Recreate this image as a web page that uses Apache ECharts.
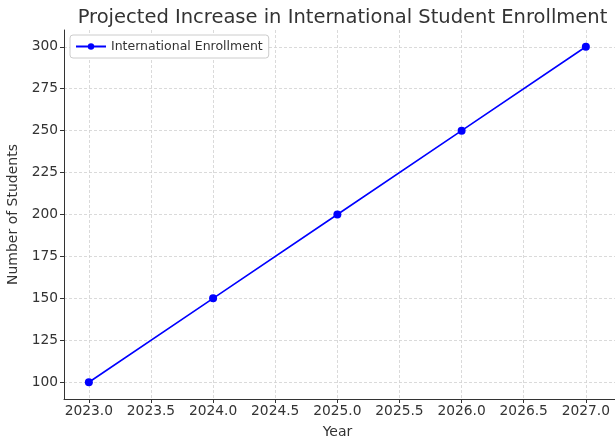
<!DOCTYPE html>
<html><head><meta charset="utf-8">
<script src="https://cdn.jsdelivr.net/npm/echarts@6/dist/echarts.min.js"></script>
<style>html,body{margin:0;padding:0;background:#fff;overflow:hidden}#c{width:615px;height:440px}</style>
</head><body><div id="c"></div>
<script>
const years = [2023, 2024, 2025, 2026, 2027];
const enrollment = [100, 150, 200, 250, 300];
const xTicks = [2023.0, 2023.5, 2024.0, 2024.5, 2025.0, 2025.5, 2026.0, 2026.5, 2027.0];
const yTicks = [100, 125, 150, 175, 200, 225, 250, 275, 300];
const seriesName = 'International Enrollment';

const font = 'DejaVu Sans';
const gridStyle = {color: '#d0d0d0', type: [3, 2], width: 0.8};
const chart = echarts.init(document.getElementById('c'), null, {renderer: 'canvas'});
chart.setOption({
  animation: false,
  backgroundColor: '#fff',
  title: {
    text: 'Projected Increase in International Student Enrollment',
    left: 337.5, textAlign: 'center', top: 3,
    textStyle: {fontFamily: font, fontSize: 19.5, fontWeight: 'normal', color: '#333'}
  },
  legend: {
    left: 70, top: 35, orient: 'vertical',
    padding: [5, 6, 5, 5],
    itemWidth: 30, itemHeight: 8,
    borderColor: '#ccc', borderWidth: 1, borderRadius: 3,
    backgroundColor: '#fff',
    textStyle: {fontFamily: font, fontSize: 12.5, color: '#333'},
    data: [seriesName]
  },
  grid: {left: 64, right: -10, top: 30, bottom: 41, containLabel: false, outerBoundsMode: 'none'},
  xAxis: {
    type: 'value', min: 2022.8, max: 2027.315,
    name: 'Year', nameLocation: 'middle', nameGap: 26,
    nameTextStyle: {fontFamily: font, fontSize: 14, color: '#333', padding: [0, 14, 0, 0]},
    axisLine: {show: true, onZero: false, lineStyle: {color: '#333', width: 1}},
    axisTick: {show: true, length: 4, customValues: xTicks, lineStyle: {color: '#333'}},
    axisLabel: {customValues: xTicks, fontFamily: font, fontSize: 13.8, color: '#333', margin: 5,
      formatter: v => v.toFixed(1)},
    splitLine: {show: true, lineStyle: gridStyle}
  },
  yAxis: {
    type: 'value', min: 90, max: 310,
    name: 'Number of Students', nameLocation: 'middle', nameGap: 37,
    nameTextStyle: {fontFamily: font, fontSize: 14, color: '#333'},
    axisLine: {show: true, onZero: false, lineStyle: {color: '#333', width: 1}},
    axisTick: {show: true, length: 4, customValues: yTicks, lineStyle: {color: '#333'}},
    axisLabel: {customValues: yTicks, fontFamily: font, fontSize: 13.8, color: '#333', margin: 6},
    splitLine: {show: true, lineStyle: gridStyle}
  },
  series: [{
    name: seriesName, type: 'line',
    data: years.map((y, i) => [y, enrollment[i]]),
    symbol: 'circle', symbolSize: 8,
    lineStyle: {color: '#0000ff', width: 1.6},
    itemStyle: {color: '#0000ff'}
  }]
});
</script></body></html>
